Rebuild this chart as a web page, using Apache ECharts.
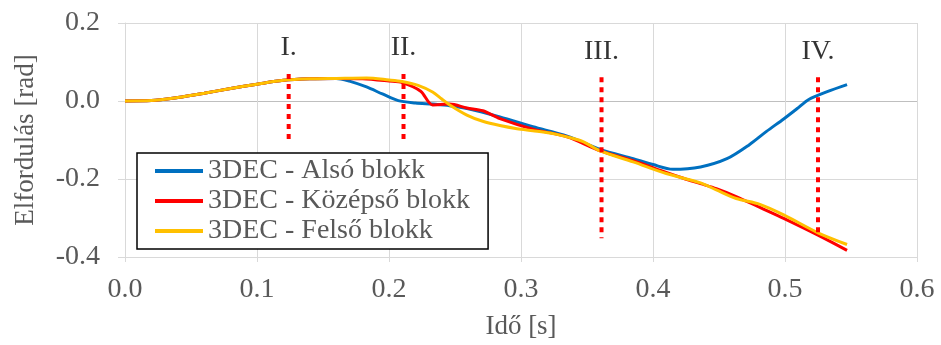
<!DOCTYPE html>
<html>
<head>
<meta charset="utf-8">
<script src="https://cdn.jsdelivr.net/npm/echarts@6/dist/echarts.min.js"></script>
<style>html,body{margin:0;padding:0;background:#fff}#c{width:941px;height:345px}</style>
</head>
<body>
<div id="c"></div>
<script>
// Series names
const seriesNames = ['3DEC - Alsó blokk', '3DEC - Középső blokk', '3DEC - Felső blokk'];

// Shared initial segment
const riseT = [0, 0.02, 0.04, 0.06, 0.08, 0.10, 0.12, 0.14, 0.16];
const riseV = [0, 0.001, 0.009, 0.020, 0.032, 0.043, 0.053, 0.057, 0.058];

// Alsó blokk (blue)
const blueT = [0.17, 0.183, 0.195, 0.207, 0.22, 0.233, 0.246, 0.26, 0.284, 0.309, 0.335, 0.36, 0.385, 0.40, 0.415, 0.436, 0.456, 0.473, 0.486, 0.499, 0.509, 0.518, 0.532, 0.547];
const blueV = [0.051, 0.036, 0.018, 0.001, -0.005, -0.008, -0.012, -0.020, -0.041, -0.066, -0.090, -0.124, -0.148, -0.163, -0.175, -0.169, -0.148, -0.112, -0.078, -0.046, -0.020, 0.004, 0.024, 0.042];

// Középső blokk (red)
const redT = [0.18, 0.20, 0.21, 0.224, 0.233, 0.246, 0.259, 0.271, 0.284, 0.309, 0.335, 0.36, 0.385, 0.41, 0.423, 0.436, 0.448, 0.463, 0.481, 0.499, 0.525, 0.547];
const redV = [0.057, 0.051, 0.047, 0.025, -0.010, -0.008, -0.018, -0.025, -0.045, -0.072, -0.092, -0.128, -0.153, -0.183, -0.198, -0.212, -0.225, -0.245, -0.273, -0.301, -0.344, -0.383];

// Felső blokk (yellow)
const yellowT = [0.183, 0.20, 0.21, 0.222, 0.233, 0.24, 0.246, 0.259, 0.271, 0.284, 0.297, 0.309, 0.322, 0.335, 0.347, 0.36, 0.385, 0.41, 0.436, 0.448, 0.463, 0.481, 0.499, 0.525, 0.547];
const yellowV = [0.059, 0.054, 0.050, 0.040, 0.023, 0.005, -0.010, -0.036, -0.052, -0.063, -0.071, -0.076, -0.082, -0.092, -0.104, -0.128, -0.156, -0.186, -0.210, -0.228, -0.250, -0.265, -0.292, -0.338, -0.368];

// Phase markers
const markerLabels = ['I.', 'II.', 'III.', 'IV.'];
const markerT = [0.124, 0.211, 0.361, 0.525];
const markerTop = [0.069, 0.069, 0.061, 0.061];
const markerBottom = [-0.102, -0.105, -0.352, -0.347];

function pairs(t, v, prefixT, prefixV) {
  const a = prefixT.map((x, i) => [x, prefixV[i]]);
  return a.concat(t.map((x, i) => [x, v[i]]));
}

const font = "'Liberation Serif', 'DejaVu Serif', serif";
const grey = '#595959';
const colors = ['#0070C0', '#FF0000', '#FFC000'];

const series = [];
const mainData = [
  pairs(blueT, blueV, riseT, riseV),
  pairs(redT, redV, riseT, riseV),
  pairs(yellowT, yellowV, riseT, riseV)
];
mainData.forEach((d, i) => {
  series.push({
    name: seriesNames[i], type: 'line', data: d, showSymbol: false, symbol: 'none',
    smooth: 0.3, z: 3 + i,
    lineStyle: { color: colors[i], width: 3 }, itemStyle: { color: colors[i] }
  });
});
markerT.forEach((t, i) => {
  series.push({
    name: 'm' + i, type: 'line', symbol: 'none', z: 10, silent: true,
    data: [[t, markerTop[i]], [t, markerBottom[i]]],
    lineStyle: { color: '#FF0000', width: 4, type: [5, 5], cap: 'butt' }
  });
});
series.push({
  name: 'labels', type: 'scatter', symbolSize: 0, z: 11, silent: true,
  data: markerT.map((t, i) => ({ value: [t, markerTop[i]], name: markerLabels[i] })),
  label: { show: true, position: 'top', distance: 12, formatter: p => p.name,
    fontFamily: font, fontSize: 28, color: '#000' }
});

const chart = echarts.init(document.getElementById('c'), null, { renderer: 'canvas' });
chart.setOption({
  animation: false,
  grid: { left: 125, right: 24, top: 23, bottom: 88 },
  legend: {
    data: seriesNames, orient: 'vertical', left: 137, top: 153,
    padding: [4, 18, 4, 18], itemGap: 2, itemWidth: 48, itemHeight: 4, icon: 'rect',
    borderColor: '#000', borderWidth: 1.5, backgroundColor: '#fff',
    textStyle: { fontFamily: font, fontSize: 28, color: grey }
  },
  xAxis: {
    type: 'value', min: 0, max: 0.6, interval: 0.1,
    name: 'Idő [s]', nameLocation: 'middle', nameGap: 56,
    nameTextStyle: { fontFamily: font, fontSize: 27, color: grey },
    axisLine: { show: true, onZero: false, lineStyle: { color: '#D9D9D9' } },
    axisTick: { show: true, length: 5, lineStyle: { color: '#D9D9D9' } },
    axisLabel: { margin: 19, fontFamily: font, fontSize: 28, color: grey, formatter: v => v.toFixed(1) },
    splitLine: { show: true, lineStyle: { color: '#D9D9D9', width: 1 } }
  },
  yAxis: {
    type: 'value', min: -0.4, max: 0.2, interval: 0.2,
    name: 'Elfordulás [rad]', nameLocation: 'middle', nameGap: 86,
    nameTextStyle: { fontFamily: font, fontSize: 27, color: grey },
    axisLine: { show: true, lineStyle: { color: '#D9D9D9' } },
    axisTick: { show: true, length: 7, lineStyle: { color: '#D9D9D9' } },
    axisLabel: { margin: 25, fontFamily: font, fontSize: 28, color: grey,
      formatter: v => (Math.abs(v) < 1e-9 ? 0 : v).toFixed(1) },
    splitLine: { show: true, lineStyle: { color: ['#D9D9D9', '#D9D9D9', '#BFBFBF', '#D9D9D9'], width: 1 } }
  },
  series: series
});
</script>
</body>
</html>
